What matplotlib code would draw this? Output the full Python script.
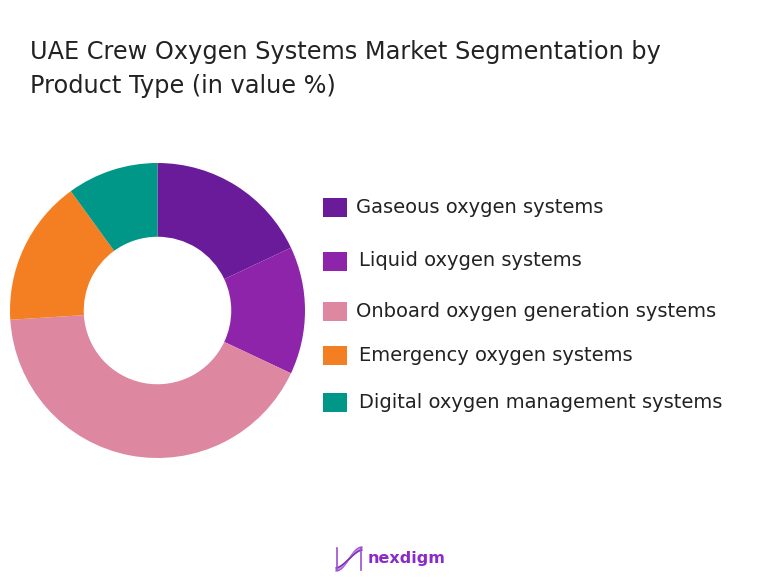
import matplotlib
matplotlib.use("Agg")
import matplotlib.pyplot as plt
from matplotlib.patches import Rectangle
import numpy as np

title = "UAE Crew Oxygen Systems Market Segmentation by\nProduct Type (in value %)"
categories = ["Gaseous oxygen systems", "Liquid oxygen systems",
              "Onboard oxygen generation systems", "Emergency oxygen systems",
              "Digital oxygen management systems"]
values = [18, 14, 42, 16, 10]
colors = ["#6A1B9A", "#8E24AA", "#DD88A0", "#F47F22", "#009688"]

W, H = 772, 578
fig = plt.figure(figsize=(W / 100, H / 100), dpi=100)
fig.patch.set_facecolor("white")
plt.rcParams["font.family"] = ["DejaVu Sans"]

# donut
cx, cy, r = 157.5, 310.5, 147.5
ax = fig.add_axes([(cx - r) / W, 1 - (cy + r) / H, 2 * r / W, 2 * r / H])
ax.pie(values, colors=colors, startangle=90, counterclock=False,
       wedgeprops=dict(width=0.5, edgecolor="none"), radius=1)
ax.set_xlim(-1, 1)
ax.set_ylim(-1, 1)
ax.set_aspect("equal")
ax.axis("off")

# title
fig.text(30 / W, 1 - 40 / H, title, fontsize=17.3, color="#222222",
         va="top", ha="left", linespacing=1.55)

# legend
row_y = [207.5, 261, 311.5, 355.5, 402.5]
text_x = [356, 359, 356, 359, 359]
for lab, col, y, tx in zip(categories, colors, row_y, text_x):
    fig.patches.append(Rectangle(((323) / W, 1 - (y + 9.5) / H), 24 / W, 19 / H,
                                 transform=fig.transFigure, facecolor=col,
                                 edgecolor="none"))
    fig.text(tx / W, 1 - y / H, lab, fontsize=14, color="#222222",
             va="center", ha="left")

# logo
lax = fig.add_axes([335 / W, 1 - 573 / H, 28 / W, 28 / H])
t = np.linspace(0, 1, 100)
for k, a in enumerate([0.0, 0.12, 0.24]):
    xs = t
    ys = 0.5 + 0.42 * np.sin(np.pi * (t - 0.5)) * (1 - a) + a * 0.1 * np.sin(2 * np.pi * t)
    lax.plot(xs, ys, color=["#9B4FD0", "#C58BEA", "#7A2FB8"][k], lw=1.2)
lax.plot([0.02, 0.02], [0.1, 0.9], color="#9B4FD0", lw=1.2)
lax.plot([0.98, 0.98], [0.1, 0.9], color="#9B4FD0", lw=1.2)
lax.set_xlim(-0.05, 1.05)
lax.set_ylim(0, 1)
lax.axis("off")
fig.text(368 / W, 1 - 559 / H, "nexdigm", fontsize=11.5, fontweight="bold",
         color="#8A2BC9", va="center", ha="left")

fig.savefig("out.png", dpi=100, facecolor="white")
